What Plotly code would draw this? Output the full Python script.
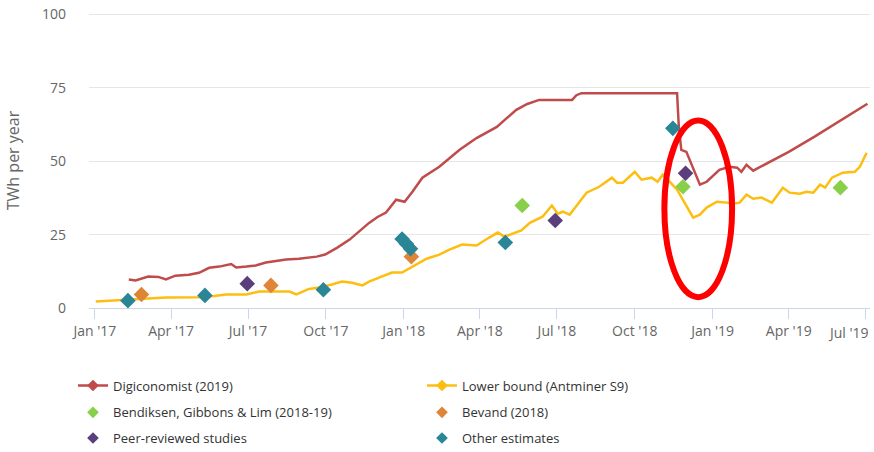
import plotly.graph_objects as go

# ---------------- data ----------------
digi_dates = ["2017-02-10", "2017-02-18", "2017-03-05", "2017-03-17", "2017-03-26", "2017-04-06",
              "2017-04-22", "2017-05-04", "2017-05-16", "2017-05-28", "2017-06-11", "2017-06-17",
              "2017-06-29", "2017-07-10", "2017-07-22", "2017-08-15", "2017-08-30", "2017-09-20",
              "2017-09-30", "2017-10-14", "2017-10-29", "2017-11-09", "2017-11-21", "2017-12-01",
              "2017-12-11", "2017-12-23", "2018-01-02", "2018-01-11", "2018-01-23", "2018-02-12",
              "2018-03-08", "2018-03-28", "2018-04-21", "2018-05-02", "2018-05-14", "2018-05-27",
              "2018-06-10", "2018-07-19", "2018-07-24", "2018-07-30", "2018-11-20", "2018-11-22",
              "2018-11-25", "2018-12-01", "2018-12-17", "2018-12-25", "2019-01-09", "2019-01-21",
              "2019-01-30", "2019-02-04", "2019-02-10", "2019-02-18", "2019-04-01", "2019-05-01",
              "2019-06-01", "2019-07-03"]
digi_vals = [9.7, 9.4, 10.7, 10.6, 9.7, 11.0,
             11.3, 12.0, 13.7, 14.1, 15.0, 13.8,
             14.1, 14.5, 15.5, 16.5, 16.8, 17.5,
             18.2, 20.5, 23.3, 26.0, 29.0, 31.0,
             32.5, 36.9, 36.2, 39.5, 44.4, 48.1,
             53.9, 57.9, 61.7, 64.5, 67.5, 69.5,
             70.9, 70.9, 72.5, 73.2, 73.2, 62.0,
             53.9, 53.2, 42.0, 43.0, 47.1, 48.1,
             47.8, 46.4, 48.8, 46.8, 53.2, 58.3,
             63.8, 69.6]

lower_dates = ["2017-01-02", "2017-01-17", "2017-02-10", "2017-03-05", "2017-03-26", "2017-04-16",
               "2017-05-04", "2017-05-22", "2017-06-05", "2017-06-29", "2017-07-14", "2017-08-19",
               "2017-08-27", "2017-09-11", "2017-09-23", "2017-10-08", "2017-10-20", "2017-11-01",
               "2017-11-13", "2017-11-21", "2017-12-03", "2017-12-18", "2017-12-30", "2018-01-11",
               "2018-01-28", "2018-02-12", "2018-02-24", "2018-03-11", "2018-03-28", "2018-04-12",
               "2018-04-22", "2018-04-30", "2018-05-20", "2018-05-30", "2018-06-14", "2018-06-25",
               "2018-07-02", "2018-07-08", "2018-07-16", "2018-08-05", "2018-08-20", "2018-09-04",
               "2018-09-10", "2018-09-17", "2018-10-01", "2018-10-09", "2018-10-21", "2018-10-28",
               "2018-11-03", "2018-11-09", "2018-11-20", "2018-12-09", "2018-12-17", "2018-12-25",
               "2019-01-06", "2019-01-18", "2019-01-25", "2019-02-02", "2019-02-10", "2019-02-18",
               "2019-02-28", "2019-03-12", "2019-03-25", "2019-04-02", "2019-04-14", "2019-04-22",
               "2019-04-30", "2019-05-08", "2019-05-14", "2019-05-22", "2019-06-04", "2019-06-18",
               "2019-06-24", "2019-07-02"]
lower_vals = [2.2, 2.4, 2.9, 3.2, 3.6, 3.6,
              3.7, 4.1, 4.6, 4.6, 5.6, 5.6,
              4.6, 6.5, 7.0, 8.0, 9.0, 8.6,
              7.7, 9.0, 10.4, 12.1, 12.1, 14.1,
              16.8, 18.2, 19.9, 21.6, 21.3, 24.0,
              25.7, 24.3, 26.4, 29.0, 31.1, 34.9,
              32.1, 32.8, 31.8, 39.3, 41.3, 44.4,
              42.7, 42.7, 46.4, 43.7, 44.4, 43.0,
              45.4, 43.7, 40.3, 30.8, 31.8, 34.2,
              36.2, 35.9, 35.5, 35.9, 38.6, 37.2,
              37.6, 35.9, 41.0, 39.3, 38.9, 39.6,
              39.3, 42.0, 41.0, 44.4, 46.1, 46.4,
              48.1, 52.9]

bend_dates = ["2018-05-21", "2018-11-27", "2019-06-01"]
bend_vals = [34.9, 41.3, 41.0]

bevand_dates = ["2017-02-25", "2017-07-28", "2018-01-10"]
bevand_vals = [4.6, 7.7, 17.5]

peer_dates = ["2017-06-30", "2018-06-29", "2018-11-30"]
peer_vals = [8.3, 29.8, 45.9]

other_dates = ["2017-02-09", "2017-05-11", "2017-09-28", "2017-12-30", "2018-01-04",
               "2018-01-09", "2018-05-01", "2018-11-15"]
other_vals = [2.5, 4.3, 6.2, 23.5, 21.9, 20.2, 22.3, 61.2]

y_ticks = [0, 25, 50, 75, 100]
y_range = [0, 100.5]
x_tick_vals = ["2017-01-01", "2017-04-01", "2017-07-01", "2017-10-01", "2018-01-01",
               "2018-04-01", "2018-07-01", "2018-10-01", "2019-01-01", "2019-04-01",
               "2019-07-01"]
x_tick_text = ["Jan '17", "Apr '17", "Jul '17", "Oct '17", "Jan '18", "Apr '18",
               "Jul '18", "Oct '18", "Jan '19", "Apr '19", "Jul '19"]
x_range = ["2016-12-25", "2019-07-06"]
y_title = "TWh per year"

names = ["Digiconomist (2019)", "Lower bound (Antminer S9)",
         "Bendiksen, Gibbons & Lim (2018-19)", "Bevand (2018)",
         "Peer-reviewed studies", "Other estimates"]

# highlight ellipse bounds (annotation)
ellipse_x = ["2018-11-05", "2019-01-24"]
ellipse_y = [3.7, 63.9]

# ---------------- styling ----------------
C_DIGI = "#bf4b4b"
C_LOW = "#fdbe10"
C_BEND = "#88cf4a"
C_BEV = "#df8538"
C_PEER = "#5a3f7c"
C_OTHER = "#2a8597"
FONT = "Open Sans"
TICK_FONT = dict(family=FONT, size=14, color="#666666")

fig = go.Figure()

fig.add_trace(go.Scatter(x=digi_dates, y=digi_vals, mode="lines",
                         line=dict(color=C_DIGI, width=2.5), showlegend=False))
fig.add_trace(go.Scatter(x=lower_dates, y=lower_vals, mode="lines",
                         line=dict(color=C_LOW, width=2.5), showlegend=False))

for xs, ys, c in [(bend_dates, bend_vals, C_BEND), (bevand_dates, bevand_vals, C_BEV),
                  (peer_dates, peer_vals, C_PEER), (other_dates, other_vals, C_OTHER)]:
    fig.add_trace(go.Scatter(x=xs, y=ys, mode="markers",
                             marker=dict(symbol="diamond", size=12, color=c),
                             showlegend=False))

# legend entries (three rows, two columns)
legend_specs = [
    (names[0], C_DIGI, True, "legend"), (names[1], C_LOW, True, "legend"),
    (names[2], C_BEND, False, "legend2"), (names[3], C_BEV, False, "legend2"),
    (names[4], C_PEER, False, "legend3"), (names[5], C_OTHER, False, "legend3"),
]
for nm, c, is_line, lg in legend_specs:
    fig.add_trace(go.Scatter(
        x=[None], y=[None], name=nm,
        mode="lines+markers" if is_line else "markers",
        line=dict(color=c, width=2.5),
        marker=dict(symbol="diamond", size=9, color=c),
        legend=lg, showlegend=True))

leg_common = dict(orientation="h", xanchor="left", yanchor="top", x=-0.0205,
                  entrywidth=304, entrywidthmode="pixels",
                  font=dict(family=FONT, size=13, color="#333333"),
                  bgcolor="rgba(0,0,0,0)", borderwidth=0, traceorder="normal")

# last x label is kept inside the chart edge (as in the original), so it is placed as an annotation
shown_tick_text = x_tick_text[:-1] + [""]

fig.update_layout(
    width=874, height=452,
    margin=dict(l=89, r=4, t=12.5, b=144, autoexpand=False),
    paper_bgcolor="white", plot_bgcolor="white",
    font=dict(family=FONT, color="#666666"),
    legend=dict(leg_common, y=-0.212),
    legend2=dict(leg_common, y=-0.303),
    legend3=dict(leg_common, y=-0.390),
    xaxis=dict(type="date", range=x_range, tickmode="array", tickvals=x_tick_vals,
               ticktext=shown_tick_text, ticks="outside", ticklen=10, tickwidth=1,
               tickcolor="#ccd6eb", showline=True, linecolor="#ccd6eb", linewidth=1,
               showgrid=False, zeroline=False, ticklabeloverflow="allow",
               tickfont=TICK_FONT),
    yaxis=dict(range=y_range, tickvals=y_ticks, showgrid=True, gridcolor="#e6e6e6",
               gridwidth=1, zeroline=False, showline=False, ticks="",
               ticklabelstandoff=22, ticklabeloverflow="allow",
               tickfont=TICK_FONT,
               title=dict(text=y_title, standoff=18,
                          font=dict(family=FONT, size=16, color="#666666"))),
    shapes=[dict(type="circle", xref="x", yref="y",
                 x0=ellipse_x[0], x1=ellipse_x[1], y0=ellipse_y[0], y1=ellipse_y[1],
                 line=dict(color="#ff0000", width=6), layer="above")],
    annotations=[dict(x=x_tick_vals[-1], y=0, xref="x", yref="y", text=x_tick_text[-1],
                      showarrow=False, xanchor="right", yanchor="top", xshift=5, yshift=-13,
                      font=TICK_FONT)],
)

# remove the default 8px page margin so the figure fills the window exactly
fig.write_html("out.html", config={"displayModeBar": False},
               post_script="document.body.style.margin='0px';")
